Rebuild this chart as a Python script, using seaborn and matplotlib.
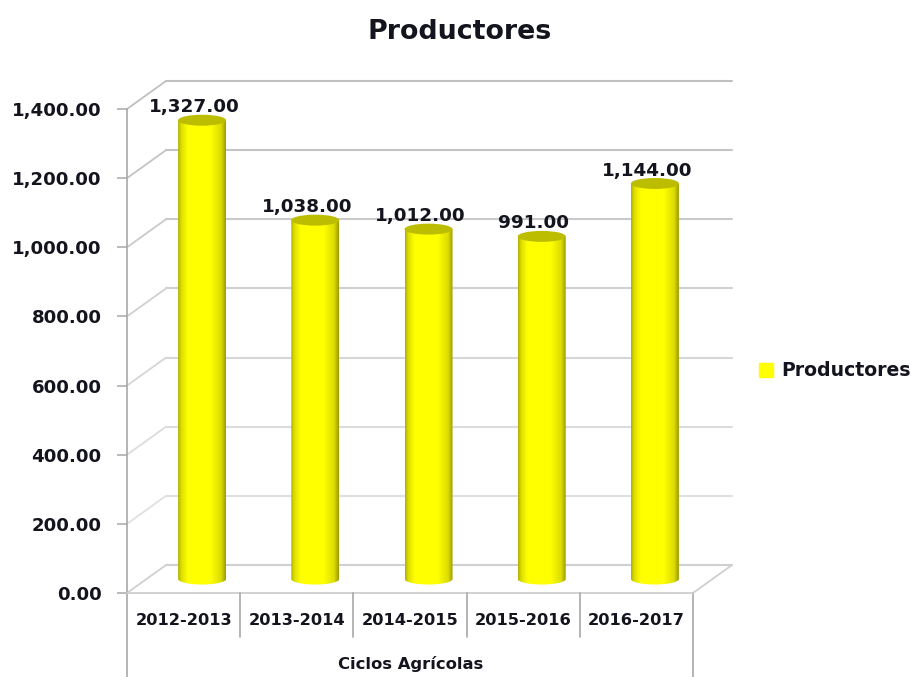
import numpy as np
import pandas as pd
import matplotlib
matplotlib.use("Agg")
import matplotlib.pyplot as plt
import matplotlib.transforms as mtransforms
from matplotlib.colors import LinearSegmentedColormap
from matplotlib.patches import Ellipse, Patch, PathPatch
from matplotlib.path import Path
from matplotlib.lines import Line2D
import seaborn as sns

cycles = ["2012-2013", "2013-2014", "2014-2015", "2015-2016", "2016-2017"]
producers = [1327, 1038, 1012, 991, 1144]
y_ticks = [0, 200, 400, 600, 800, 1000, 1200, 1400]
grid_shades = ["#d0d0d0", "#e0e0e0", "#dcdcdc", "#d6d6d6", "#d0d0d0", "#cacaca", "#c4c4c4", "#c0c0c0"]
series_name = "Productores"
x_title = "Ciclos Agrícolas"

W, H = 912, 677
sns.set_theme(style="white")
plt.rcParams["font.family"] = ["DejaVu Sans"]
plt.rcParams["font.weight"] = "bold"

INK = "#14141e"
AXIS = "#a8a8a8"
FLOOR = "#cfcfcf"
CYL = "#ffff00"
CAP = "#bdbd00"

fig = plt.figure(figsize=(W / 100, H / 100), dpi=100)
L, R, T, B = 127, 693, 109, 593
ax = fig.add_axes([L / W, 1 - B / H, (R - L) / W, (B - T) / H])
ax.patch.set_alpha(0)

px_x = (R - L) / len(cycles)          # pixels per category
px_y = (B - T) / max(y_ticks)         # pixels per unit

# Depth of the 3-D box, expressed in data units
DEPTH_X = 39 / px_x
DEPTH_Y = 28 / px_y
back = mtransforms.Affine2D().translate(DEPTH_X, DEPTH_Y) + ax.transData
mid = mtransforms.Affine2D().translate(18.5 / px_x, 14 / px_y) + ax.transData

df = pd.DataFrame({"ciclo": cycles, "productores": producers})
sns.barplot(data=df, x="ciclo", y="productores", color=CYL, width=0.424,
            saturation=1, ax=ax, zorder=3, legend=False)
x_lo, x_hi = -0.5, len(cycles) - 0.5
ax.set_xlim(x_lo, x_hi)
ax.set_ylim(0, max(y_ticks))

# Wall gridlines and the slanted edges joining them to the value axis
for v, shade_col in zip(y_ticks, grid_shades):
    ax.plot([x_lo, x_hi], [v, v], transform=back, color=shade_col, lw=1.5,
            clip_on=False, zorder=1)
    ax.plot([x_lo, x_lo + DEPTH_X], [v, v + DEPTH_Y], color=shade_col, lw=1.3,
            clip_on=False, zorder=1)
ax.plot([x_hi, x_hi + DEPTH_X], [0, DEPTH_Y], color=FLOOR, lw=1.3,
        clip_on=False, zorder=1)

# Cylinders: shaded body, rounded base, darker elliptical top
shade = LinearSegmentedColormap.from_list(
    "cyl", [(0, "#b0b000"), (0.07, "#dede00"), (0.2, "#ffff00"),
            (0.68, "#ffff00"), (0.9, "#dcdc00"), (1, "#9a9a00")])
gradient = np.linspace(0, 1, 256)[None, :]
cap_h = 11 / px_y
sweep = np.linspace(np.pi, 2 * np.pi, 40)
for bar, value in zip(list(ax.patches), producers):
    x0, w = bar.get_x(), bar.get_width()
    cx = x0 + w / 2
    bar.set_visible(False)
    # Outline of the body: both sides, closed below by half an ellipse
    outline = np.vstack([
        [(x0, value)],
        np.column_stack([cx + w / 2 * np.cos(sweep), cap_h / 2 * np.sin(sweep)]),
        [(x0 + w, value), (x0, value)],
    ])
    clip = PathPatch(Path(outline, closed=True), transform=mid, fc="none", ec="none")
    ax.add_patch(clip)
    img = ax.imshow(gradient, cmap=shade, aspect="auto", transform=mid,
                    extent=(x0, x0 + w, -cap_h, value), zorder=3, clip_on=True)
    img.set_clip_path(clip)
    ax.add_patch(Ellipse((cx, value), w, cap_h, transform=mid, fc=CAP, ec="none",
                         zorder=4, clip_on=False))
    ax.annotate(f"{value:,.2f}", xy=(cx, value), xycoords=mid, xytext=(-8, 13),
                textcoords="offset pixels", ha="center", va="center",
                fontsize=13.2, color=INK, zorder=5, annotation_clip=False)
ax.set_xlim(x_lo, x_hi)
ax.set_ylim(0, max(y_ticks))
ax.set_aspect("auto")

# Value axis
sns.despine(ax=ax, left=True, bottom=True, top=True, right=True)
ax.set_xlabel("")
ax.set_ylabel("")
ax.set_yticks(y_ticks, [f"{v:,.2f}" for v in y_ticks], fontsize=13.1, color=INK)
ax.tick_params(axis="y", length=7.2, width=1.1, color=AXIS, pad=11, left=True)
ax.set_xticks(range(len(cycles)), cycles, fontsize=11.7, color=INK)
ax.tick_params(axis="x", length=0, pad=14.5)

# Multi-level category axis drawn below the floor
to_px = fig.transFigure
def frame_line(xs, ys, color=AXIS, lw=1.2):
    fig.add_artist(Line2D([x / W for x in xs], [1 - y / H for y in ys],
                          color=color, lw=lw, transform=to_px))

frame_line([L, L], [T, H])
frame_line([R, R], [B, H])
frame_line([L, R], [B, B], color=FLOOR, lw=1.3)
for i in range(1, len(cycles)):
    sx = L + i * px_x
    frame_line([sx, sx], [B, 637])

fig.text(411 / W, 1 - 664 / H, x_title, ha="center", va="center",
         fontsize=11.8, color=INK)
fig.text(460 / W, 1 - 32 / H, series_name, ha="center", va="center",
         fontsize=19.4, color=INK)

ax.legend(handles=[Patch(color=CYL, label=series_name)], loc="center left",
          bbox_to_anchor=(759 / W, 1 - 371 / H), bbox_transform=fig.transFigure,
          frameon=False, fontsize=13.6, handlelength=0.74, handleheight=0.74,
          handletextpad=0.42, labelcolor=INK, borderpad=0, borderaxespad=0)

fig.savefig("out.png", dpi=100)
